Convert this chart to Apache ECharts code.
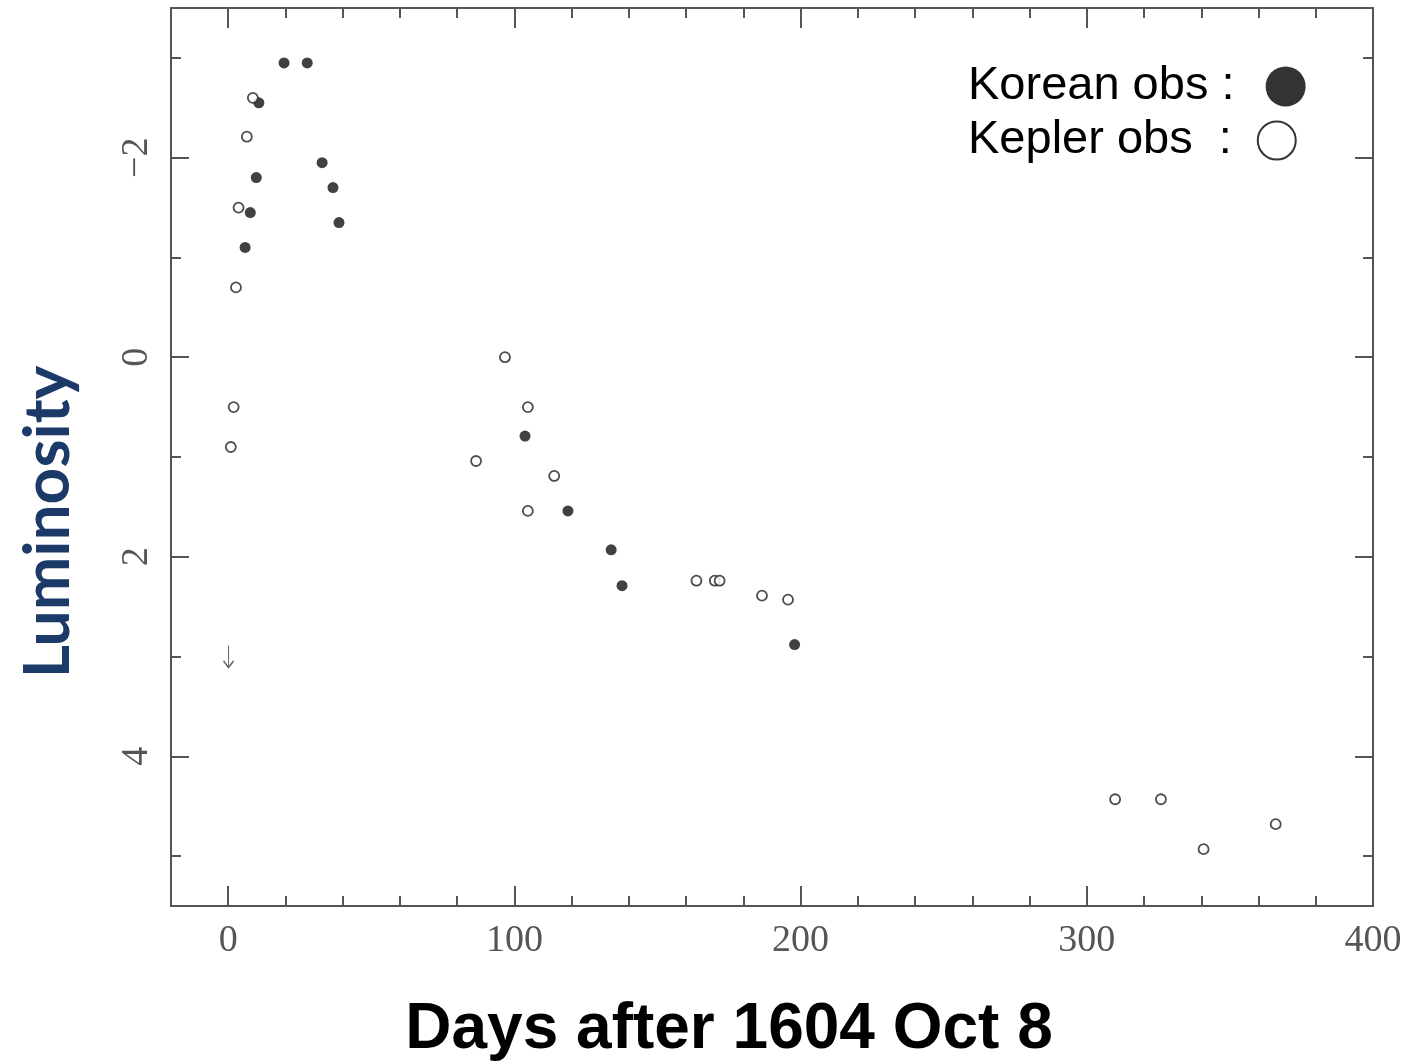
<!DOCTYPE html>
<html>
<head>
<meta charset="utf-8">
<script src="https://cdn.jsdelivr.net/npm/echarts@6/dist/echarts.min.js"></script>
<style>
  html, body { margin: 0; padding: 0; background: #fff; }
  #chart { width: 1412px; height: 1064px; }
</style>
</head>
<body>
<div id="chart"></div>
<script>
// Light curve of SN 1604: days after 1604 Oct 8 against apparent magnitude
const koreanDays = [19.5, 27.6, 10.7, 9.8, 32.8, 36.6, 7.7, 38.7, 5.9, 103.7, 118.7, 133.8, 137.6, 197.9];
const koreanMag  = [-2.95, -2.95, -2.55, -1.80, -1.95, -1.70, -1.45, -1.35, -1.10, 0.79, 1.54, 1.93, 2.29, 2.88];

const keplerDays = [8.6, 6.5, 3.6, 2.7, 1.9, 0.9, 96.7, 104.7, 86.6, 113.9, 104.7, 163.6, 170.0, 171.7, 186.5, 195.6, 309.9, 325.9, 340.8, 366.0];
const keplerMag  = [-2.60, -2.21, -1.50, -0.70, 0.50, 0.90, 0.00, 0.50, 1.04, 1.19, 1.54, 2.24, 2.24, 2.24, 2.39, 2.43, 4.43, 4.43, 4.93, 4.68];

// upper limit before discovery
const limitDays = [0.1];
const limitMag  = [3.0];

const xMajorTicks = [0, 100, 200, 300, 400];
const xMinorTicks = [20, 40, 60, 80, 120, 140, 160, 180, 220, 240, 260, 280, 320, 340, 360, 380];
const yMajorTicks = [-2, 0, 2, 4];
const yMinorTicks = [-3, -1, 1, 3, 5];

const zip = (xs, ys) => xs.map((x, i) => [x, ys[i]]);

const frameColor = '#555';
const tickLabelStyle = {
  fontFamily: '"Liberation Serif", serif',
  fontSize: 38,
  color: '#555'
};

function xAxisDef(position, ticks, length, withLine, withLabels) {
  return {
    type: 'value',
    position: position,
    min: -20,
    max: 400,
    axisLine: { show: withLine, onZero: false, lineStyle: { color: frameColor, width: 2 } },
    axisTick: { show: true, inside: true, length: length, customValues: ticks,
                lineStyle: { color: frameColor, width: 2 } },
    axisLabel: withLabels
      ? Object.assign({ show: true, customValues: ticks, margin: 16 }, tickLabelStyle)
      : { show: false },
    splitLine: { show: false }
  };
}

function yAxisDef(position, ticks, length, withLine, withLabels) {
  return {
    type: 'value',
    position: position,
    inverse: true,
    min: -3.5,
    max: 5.5,
    axisLine: { show: withLine, onZero: false, lineStyle: { color: frameColor, width: 2 } },
    axisTick: { show: true, inside: true, length: length, customValues: ticks,
                lineStyle: { color: frameColor, width: 2 } },
    axisLabel: withLabels
      ? Object.assign({
          show: true, customValues: ticks, rotate: 90, margin: 15,
          formatter: v => String(v).replace('-', '\u2212')
        }, tickLabelStyle)
      : { show: false },
    splitLine: { show: false }
  };
}

const legendText = { fontFamily: '"Liberation Sans", Arial, sans-serif', fontSize: 47, color: '#000' };

function legendDef(top, name, label, itemStyle, size) {
  return {
    orient: 'vertical',
    left: 963,
    top: top,
    align: 'right',
    itemWidth: size,
    itemHeight: size,
    selectedMode: false,
    textStyle: legendText,
    formatter: () => label,
    data: [{ name: name, icon: 'circle', itemStyle: itemStyle }]
  };
}

const chart = echarts.init(document.getElementById('chart'), null, { renderer: 'canvas' });

chart.setOption({
  backgroundColor: '#fff',
  animation: false,
  grid: { left: 171, right: 39, top: 8, bottom: 158, outerBoundsMode: 'none' },
  xAxis: [
    xAxisDef('bottom', xMajorTicks, 20, true, true),
    xAxisDef('bottom', xMinorTicks, 10, false, false),
    xAxisDef('top', xMajorTicks, 20, true, false),
    xAxisDef('top', xMinorTicks, 10, false, false)
  ],
  yAxis: [
    yAxisDef('left', yMajorTicks, 18, true, true),
    yAxisDef('left', yMinorTicks, 10, false, false),
    yAxisDef('right', yMajorTicks, 18, true, false),
    yAxisDef('right', yMinorTicks, 10, false, false)
  ],
  legend: [
    legendDef(58, 'Korean obs', 'Korean obs :  ', { color: '#000' }, 40),
    legendDef(112, 'Kepler obs', 'Kepler obs  : \u2006', { color: '#fff', borderColor: '#000', borderWidth: 2 }, 38)
  ],
  series: [
    {
      name: 'Korean obs',
      type: 'scatter',
      xAxisIndex: 0, yAxisIndex: 0,
      data: zip(koreanDays, koreanMag),
      symbol: 'circle',
      symbolSize: 11,
      itemStyle: { color: '#111' }
    },
    {
      name: 'Kepler obs',
      type: 'scatter',
      xAxisIndex: 0, yAxisIndex: 0,
      data: zip(keplerDays, keplerMag),
      symbol: 'circle',
      symbolSize: 10,
      itemStyle: { color: '#fff', borderColor: '#222', borderWidth: 1.8 }
    },
    {
      name: 'upper limit',
      type: 'scatter',
      xAxisIndex: 0, yAxisIndex: 0,
      data: zip(limitDays, limitMag),
      symbol: 'path://M5 0 L5 20 M1 14 L5 20 L9 14',
      symbolSize: [10, 22],
      itemStyle: { color: 'none', borderColor: '#444', borderWidth: 1.5 }
    }
  ],
  graphic: [
    {
      type: 'text',
      x: 48, y: 522,
      rotation: Math.PI / 2,
      style: {
        text: 'Luminosity',
        font: 'bold 64px Lato, sans-serif',
        fill: '#1b3a68',
        align: 'center',
        verticalAlign: 'middle'
      }
    },
    {
      type: 'text',
      x: 729, y: 1030,
      style: {
        text: 'Days after 1604 Oct 8',
        font: 'bold 64px "Liberation Sans", Arial, sans-serif',
        fill: '#000',
        align: 'center',
        verticalAlign: 'middle'
      }
    }
  ]
});
</script>
</body>
</html>
